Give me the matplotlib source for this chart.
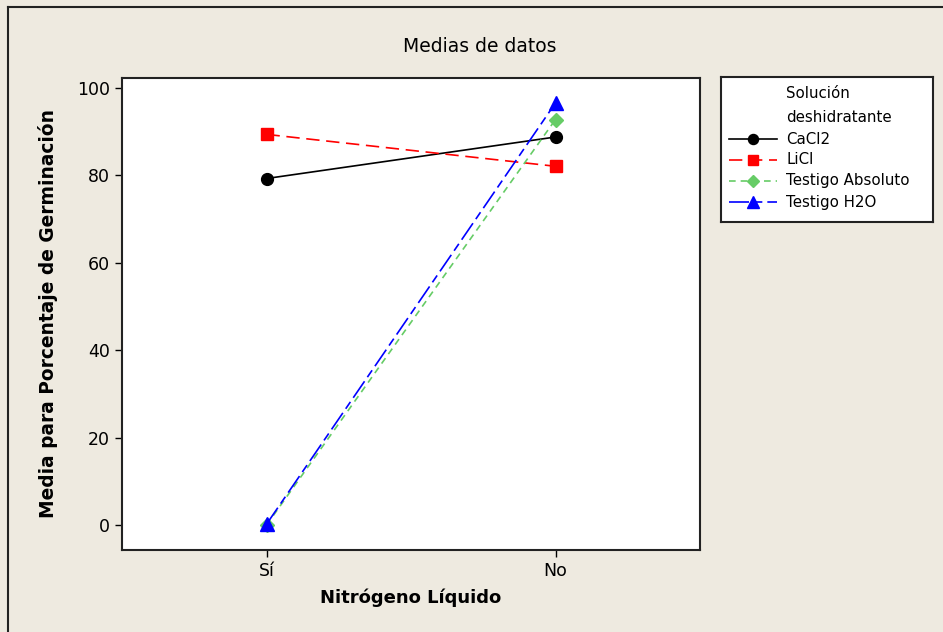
import matplotlib
matplotlib.use("Agg")
import matplotlib.pyplot as plt
from matplotlib.lines import Line2D

categories = ["Sí", "No"]
cacl2 = [79.3, 88.8]
licl = [89.4, 82.1]
testigo_abs = [0.0, 92.8]
testigo_h2o = [0.2, 96.6]
series_names = ["CaCl2", "LiCl", "Testigo Absoluto", "Testigo H2O"]
yticks = [0, 20, 40, 60, 80, 100]

bg = "#EEEAE0"
fig = plt.figure(figsize=(9.43, 6.32), dpi=100, facecolor=bg)
W, H = 943, 632
ax = fig.add_axes([122 / W, 1 - 550 / H, (700 - 122) / W, (550 - 78) / H])
ax.set_facecolor("white")

x = list(range(len(categories)))
styles = [
    dict(color="black", marker="o", ms=8.5, dashes=None),
    dict(color="#FF0000", marker="s", ms=8.5, dashes=(8, 4)),
    dict(color="#66CC66", marker="D", ms=7.5, dashes=(4, 3)),
    dict(color="#0000FF", marker="^", ms=9.5, dashes=(12, 3, 5, 3)),
]
data = [cacl2, licl, testigo_abs, testigo_h2o]
for name, vals, st in zip(series_names, data, styles):
    kw = dict(color=st["color"], marker=st["marker"], markersize=st["ms"],
              markeredgecolor=st["color"], markerfacecolor=st["color"], lw=1.2)
    if st["dashes"] is None:
        ax.plot(x, vals, ls="-", label=name, **kw)
    else:
        ax.plot(x, vals, ls="--", dashes=st["dashes"], label=name, **kw)

ax.set_xlim(-0.5, 1.5)
ax.set_ylim(-5.7, 102.3)
ax.set_xticks(x)
ax.set_xticklabels(categories)
ax.set_yticks(yticks)
ax.tick_params(labelsize=12.5, length=5, width=1, direction="out", colors="black")
for s in ax.spines.values():
    s.set_linewidth(1.5)
    s.set_color("#222222")
ax.set_xlabel("Nitrógeno Líquido", fontsize=13, fontweight="bold", labelpad=6)
ax.set_ylabel("Media para Porcentaje de Germinación", fontsize=13.4, fontweight="bold", labelpad=14)

fig.text(480 / W, 1 - 47 / H, "Medias de datos", ha="center", va="center", fontsize=13.5)

# legend box
lax = fig.add_axes([721 / W, 1 - 222 / H, (933 - 721) / W, (222 - 77) / H])
lax.set_xlim(0, 212)
lax.set_ylim(145, 0)
lax.set_xticks([])
lax.set_yticks([])
lax.set_facecolor("white")
for s in lax.spines.values():
    s.set_linewidth(1.5)
    s.set_color("#222222")
lax.text(65, 17, "Solución", fontsize=10.8, va="center", ha="left")
lax.text(65, 40, "deshidratante", fontsize=10.8, va="center", ha="left")
ys = [62, 83, 104, 125]
for yy, name, st in zip(ys, series_names, styles):
    kw = dict(color=st["color"], marker=st["marker"], markersize=st["ms"] * 0.85,
              markeredgecolor=st["color"], markerfacecolor=st["color"], lw=1.2,
              markevery=[1])
    if st["dashes"] is None:
        lax.plot([8, 32, 56], [yy, yy, yy], ls="-", **kw)
    else:
        lax.plot([8, 32, 56], [yy, yy, yy], ls="--", dashes=st["dashes"], **kw)
    lax.text(65, yy, name, fontsize=10.8, va="center", ha="left")

# figure border (left and top)
fig.add_artist(Line2D([8 / W, 8 / W], [0, 1 - 7 / H], color="#222222", lw=1.5))
fig.add_artist(Line2D([8 / W, 1], [1 - 7 / H, 1 - 7 / H], color="#222222", lw=1.5))

fig.savefig("out.png", dpi=100, facecolor=bg)
